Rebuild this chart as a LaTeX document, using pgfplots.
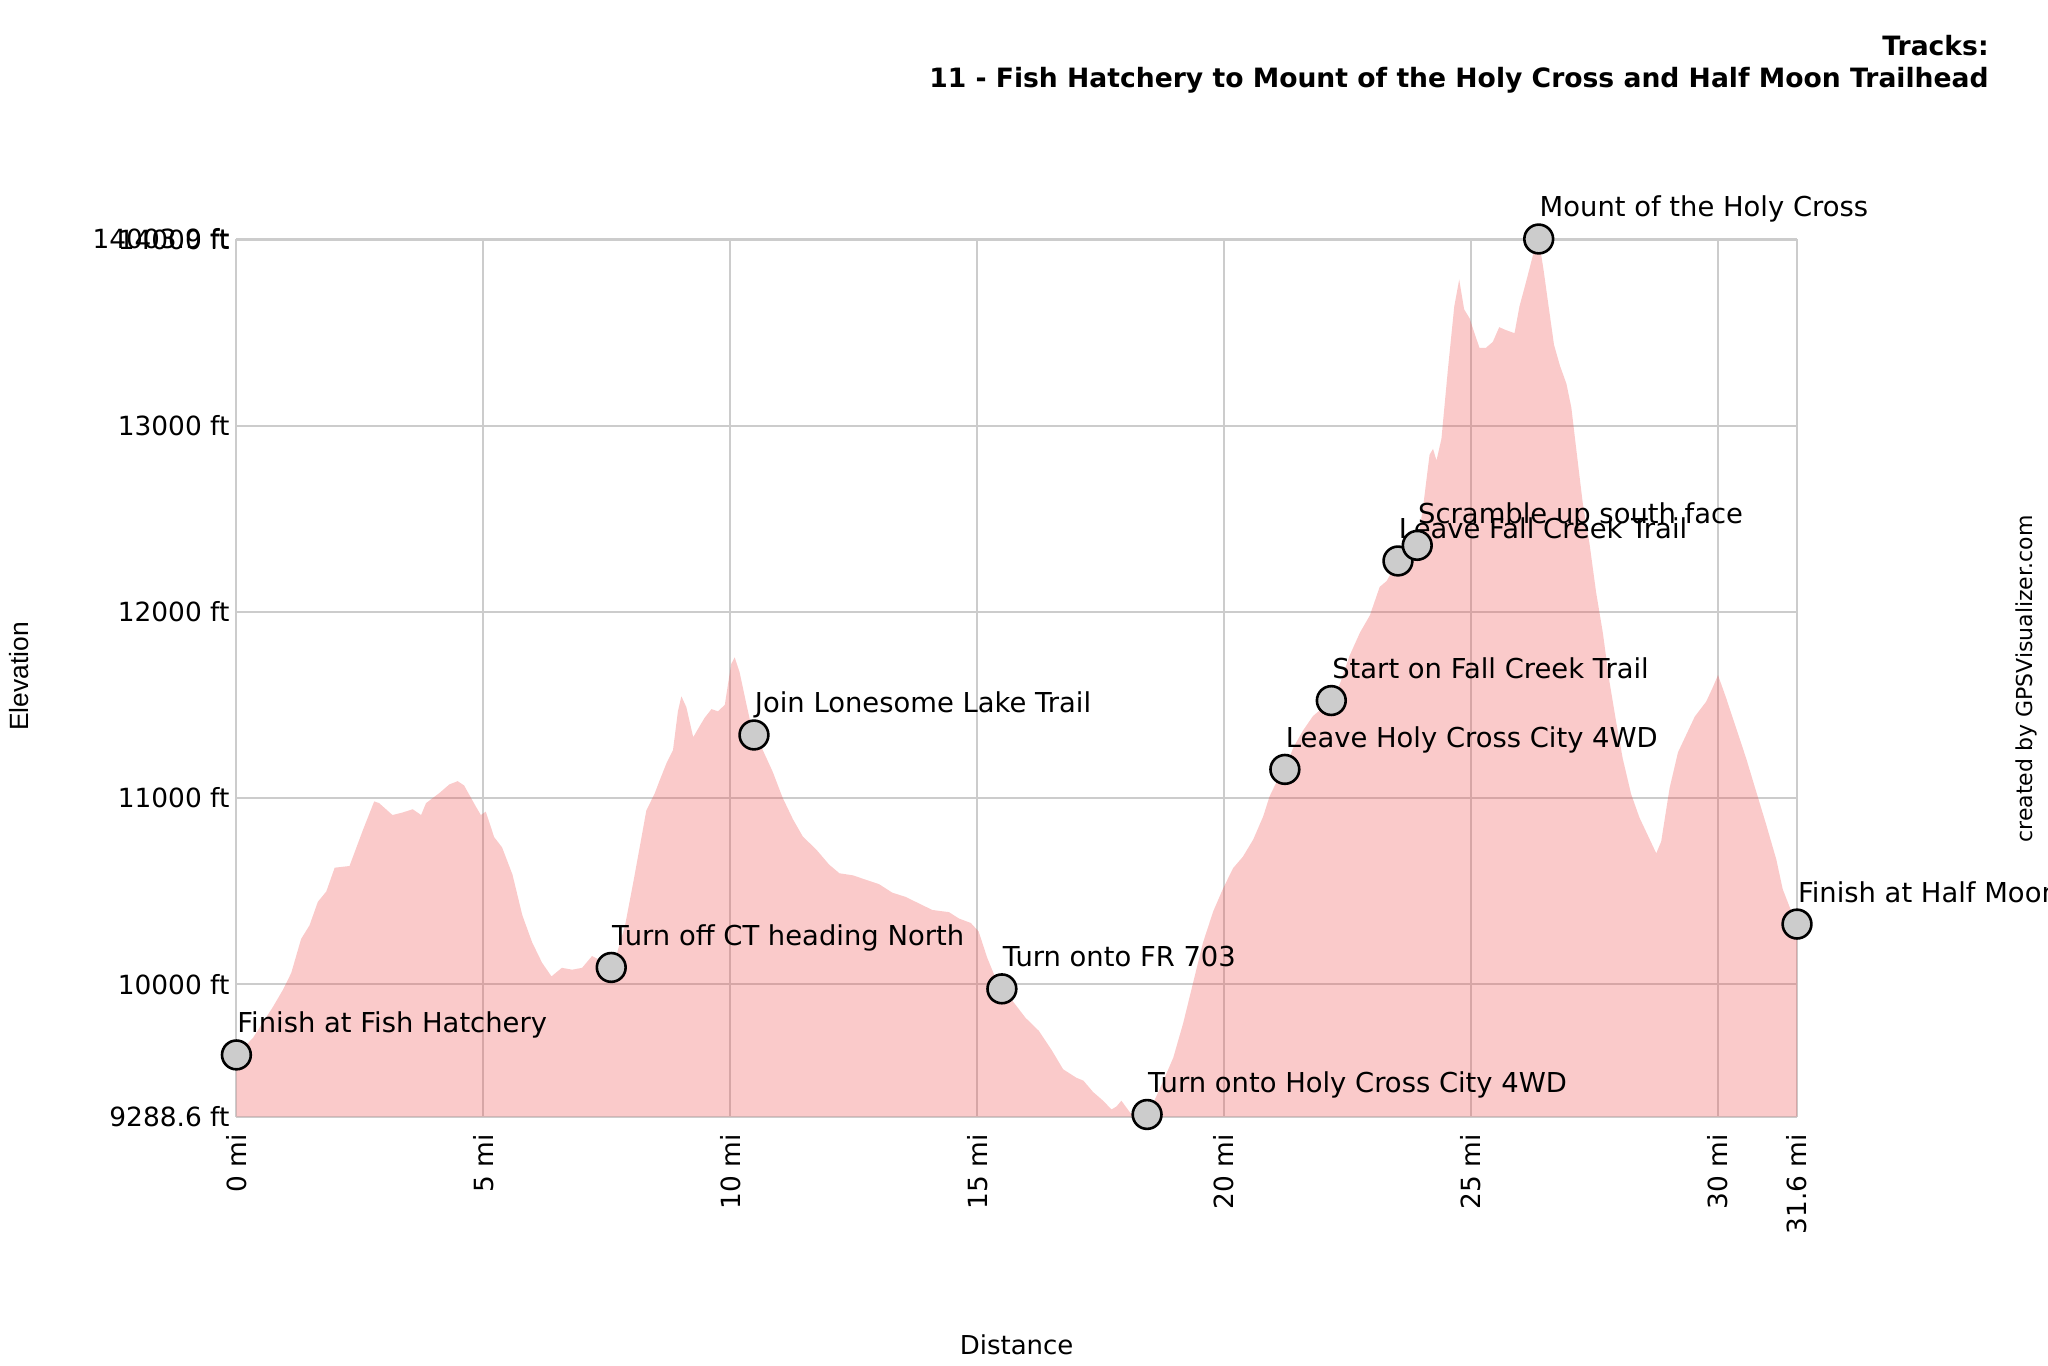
\documentclass[border=0pt]{standalone}
\usepackage{pgfplots}
\pgfplotsset{compat=1.18}
\usepackage{fontspec}
\setmainfont{DejaVu Sans}
\newfontfamily\arialf{Liberation Sans}
\definecolor{areafill}{RGB}{238,80,80}
\definecolor{gridc}{RGB}{204,204,204}
\definecolor{mkfill}{RGB}{204,204,204}
\newcommand{\lbl}{\fontsize{13.7}{16}\selectfont}
\newcommand{\tck}{\fontsize{13.2}{15}\selectfont}

\pgfplotstableread{
x y
0 9288.6
0.00 9620
0.15 9660
0.34 9713
0.55 9800
0.74 9878
0.94 9969
1.11 10060
1.31 10243
1.48 10316
1.65 10443
1.82 10498
1.99 10626
2.29 10635
2.56 10827
2.79 10982
2.89 10973
3.16 10909
3.36 10922
3.57 10940
3.74 10909
3.84 10973
4.11 11027
4.31 11073
4.48 11091
4.61 11068
4.85 10954
4.95 10909
5.05 10927
5.22 10790
5.38 10735
5.59 10589
5.79 10370
5.99 10224
6.19 10115
6.38 10042
6.59 10088
6.80 10078
7.00 10088
7.20 10151
7.34 10133
7.55 10090
7.67 10133
7.87 10316
8.04 10553
8.21 10800
8.30 10933
8.47 11025
8.57 11095
8.71 11188
8.84 11257
8.94 11466
9.01 11547
9.11 11489
9.25 11327
9.35 11373
9.48 11431
9.62 11478
9.75 11466
9.89 11501
9.95 11605
10.02 11721
10.09 11756
10.19 11675
10.32 11513
10.46 11345
10.66 11257
10.86 11141
11.06 11002
11.27 10886
11.47 10793
11.74 10724
12.00 10643
12.21 10596
12.48 10585
12.75 10561
13.01 10538
13.28 10492
13.55 10469
13.82 10434
14.09 10399
14.43 10387
14.63 10353
14.87 10329
15.03 10283
15.20 10144
15.44 9988
15.71 9912
15.98 9819
16.25 9749
16.51 9645
16.74 9543
17.01 9497
17.15 9482
17.35 9420
17.55 9374
17.72 9327
17.82 9343
17.92 9374
18.09 9312
18.20 9288.6
18.41 9305
18.56 9358
18.77 9482
18.97 9605
19.17 9790
19.37 10006
19.57 10222
19.78 10392
19.98 10515
20.18 10623
20.38 10685
20.59 10778
20.79 10901
20.92 11009
21.06 11086
21.23 11154
21.40 11271
21.60 11364
21.80 11441
22.17 11524
22.34 11611
22.54 11765
22.75 11889
22.95 11981
23.15 12135
23.29 12166
23.52 12274
23.76 12320
23.91 12358
24.03 12568
24.16 12845
24.23 12876
24.30 12814
24.40 12930
24.53 13300
24.66 13642
24.76 13786
24.86 13626
24.97 13578
25.07 13498
25.17 13419
25.30 13419
25.44 13451
25.57 13530
25.71 13514
25.88 13498
25.98 13642
26.11 13770
26.25 13914
26.37 14003.9
26.47 13834
26.57 13642
26.68 13435
26.80 13323
26.93 13227
27.03 13099
27.13 12875
27.26 12588
27.40 12364
27.53 12109
27.67 11885
27.80 11629
27.94 11406
28.07 11214
28.24 11022
28.41 10895
28.58 10799
28.75 10703
28.85 10767
29.02 11054
29.19 11246
29.36 11342
29.53 11438
29.76 11518
29.90 11598
30.00 11661
30.17 11534
30.37 11374
30.57 11214
30.77 11038
30.97 10863
31.18 10671
31.31 10511
31.45 10415
31.60 10323
31.60 9288.6
}\profile

\pgfplotstableread{
x y
0.00 9620
7.59 10090
10.48 11339
15.50 9975
18.44 9300
21.23 11154
22.17 11524
23.52 12274
23.91 12358
26.37 14003.9
31.60 10323
}\wpts

\begin{document}
\begin{tikzpicture}
\path[use as bounding box] (-118.2pt,-124.2pt) rectangle (905.8pt,558.3pt);
\begin{axis}[
  at={(0pt,0pt)}, anchor=south west,
  scale only axis, width=780.3pt, height=438.8pt,
  xmin=0, xmax=31.6, ymin=9288.6, ymax=14003.9,
  clip=false,
  axis line style={draw=none},
  tick style={draw=none},
  grid=major,
  major grid style={draw=gridc, line width=1pt},
  xtick={0,5,10,15,20,25,30,31.6},
  xticklabels={0 mi,5 mi,10 mi,15 mi,20 mi,25 mi,30 mi,31.6 mi},
  ytick={9288.6,10000,11000,12000,13000,14000,14003.9},
  yticklabels={9288.6 ft,10000 ft,11000 ft,12000 ft,13000 ft,14000 ft,14003.9 ft},
  xticklabel style={font=\tck, rotate=90, anchor=east, inner sep=0pt},
  xticklabel shift=8.5pt,
  yticklabel style={font=\tck, anchor=east, inner sep=0pt},
  yticklabel shift=3.3pt,
  scaled ticks=false,
]
\addplot[only marks, mark=*, mark size=7.2pt,
  mark options={fill=mkfill, draw=black, line width=1.3pt}] table[x=x,y=y] {\wpts};
\addplot[draw=none, fill=areafill, fill opacity=0.3] table[x=x,y=y] {\profile};

\begin{scope}[every node/.style={anchor=base west, font=\lbl, inner sep=0pt, yshift=11pt, xshift=0.3pt}]
\node at (axis cs:0.00,9620) {Finish at Fish Hatchery};
\node at (axis cs:7.59,10090) {Turn off CT heading North};
\node at (axis cs:10.48,11339) {Join Lonesome Lake Trail};
\node at (axis cs:15.50,9975) {Turn onto FR 703};
\node at (axis cs:18.44,9300) {Turn onto Holy Cross City 4WD};
\node at (axis cs:21.23,11154) {Leave Holy Cross City 4WD};
\node at (axis cs:22.17,11524) {Start on Fall Creek Trail};
\node at (axis cs:23.52,12274) {Leave Fall Creek Trail};
\node at (axis cs:23.91,12358) {Scramble up south face};
\node at (axis cs:26.37,14003.9) {Mount of the Holy Cross};
\node at (axis cs:31.60,10323) {Finish at Half Moon Trailhead};
\end{scope}
\end{axis}
\node[anchor=east, inner sep=0pt, font=\bfseries\fontsize{13.3}{15}\selectfont] at (876.3pt,535.5pt) {Tracks:};
\node[anchor=east, inner sep=0pt, font=\bfseries\fontsize{13.3}{15}\selectfont] at (876.3pt,518.3pt) {11 - Fish Hatchery to Mount of the Holy Cross and Half Moon Trailhead};
\node[rotate=90, inner sep=0pt, font=\arialf\fontsize{13.2}{15}\selectfont] at (-108.8pt,220pt) {Elevation};
\node[inner sep=0pt, font=\fontsize{13}{15}\selectfont] at (390.1pt,-114.2pt) {Distance};
\node[rotate=90, inner sep=0pt, font=\fontsize{11}{13}\selectfont] at (894.8pt,218.8pt) {created by GPSVisualizer.com};
\end{tikzpicture}
\end{document}
